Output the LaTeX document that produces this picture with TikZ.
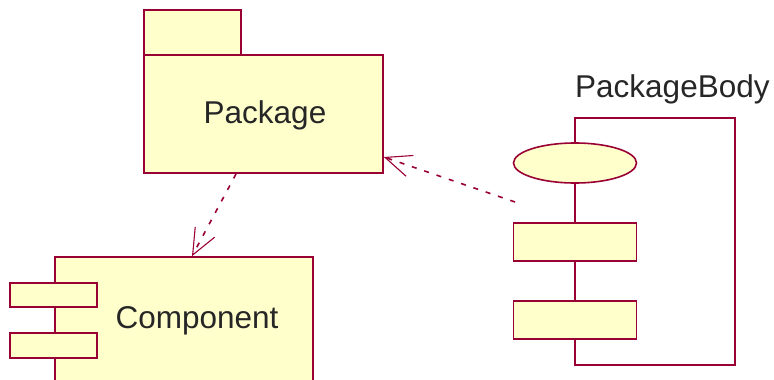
\documentclass[tikz,border=0pt]{standalone}
\usepackage{fontspec}
\setmainfont{Liberation Sans}
\usetikzlibrary{arrows.meta,shapes.geometric}
\definecolor{umlline}{RGB}{153,0,51}
\definecolor{umlfill}{RGB}{255,255,204}
\tikzset{
  box/.style={draw=umlline,fill=umlfill,line width=1.6pt,inner sep=0pt},
  lbl/.style={font=\fontsize{31.5}{34}\selectfont,text=black!85},
  dep/.style={draw=umlline,line width=1.6pt,dash pattern=on 5pt off 8pt,
    -{Straight Barb[length=26pt,width=22pt,line width=1.1pt]}},
}
\begin{document}
\begin{tikzpicture}[x=1pt,y=-1pt]
\useasboundingbox (0,0) rectangle (774,380);
\clip (0,0) rectangle (774,380);
% Package
\node[box,minimum width=97pt,minimum height=45pt] (tab) at (192.5,32.5) {};
\node[box,minimum width=239pt,minimum height=118pt] (pkg) at (263.5,114) {};
\node[lbl,anchor=base] (pkgtxt) at (265,123) {Package};
% Component
\node[box,minimum width=258pt,minimum height=150pt] (comp) at (184,332) {};
\node[box,minimum width=87pt,minimum height=24pt] (c1) at (53.5,295) {};
\node[box,minimum width=87pt,minimum height=25pt] (c2) at (53.5,345.5) {};
\node[lbl,anchor=base] (comptxt) at (197,328) {Component};
% PackageBody
\node[lbl,anchor=base west,inner sep=0pt] (pbtxt) at (575,97) {PackageBody};
\draw[umlline,line width=1.6pt] (575,118) rectangle (735,365);
\node[box,ellipse,minimum width=123pt,minimum height=40pt] (ell) at (575,163) {};
\node[box,minimum width=123pt,minimum height=38pt] (r1) at (575,242) {};
\node[box,minimum width=123pt,minimum height=38pt] (r2) at (575,320) {};
\coordinate (pbstart) at (515,202);
% dependencies
\draw[dep] (236,174) -- (comp.north -| 192,0);
\draw[dep] (pbstart) -- (pkg.east |- 0,157);
\end{tikzpicture}
\end{document}
